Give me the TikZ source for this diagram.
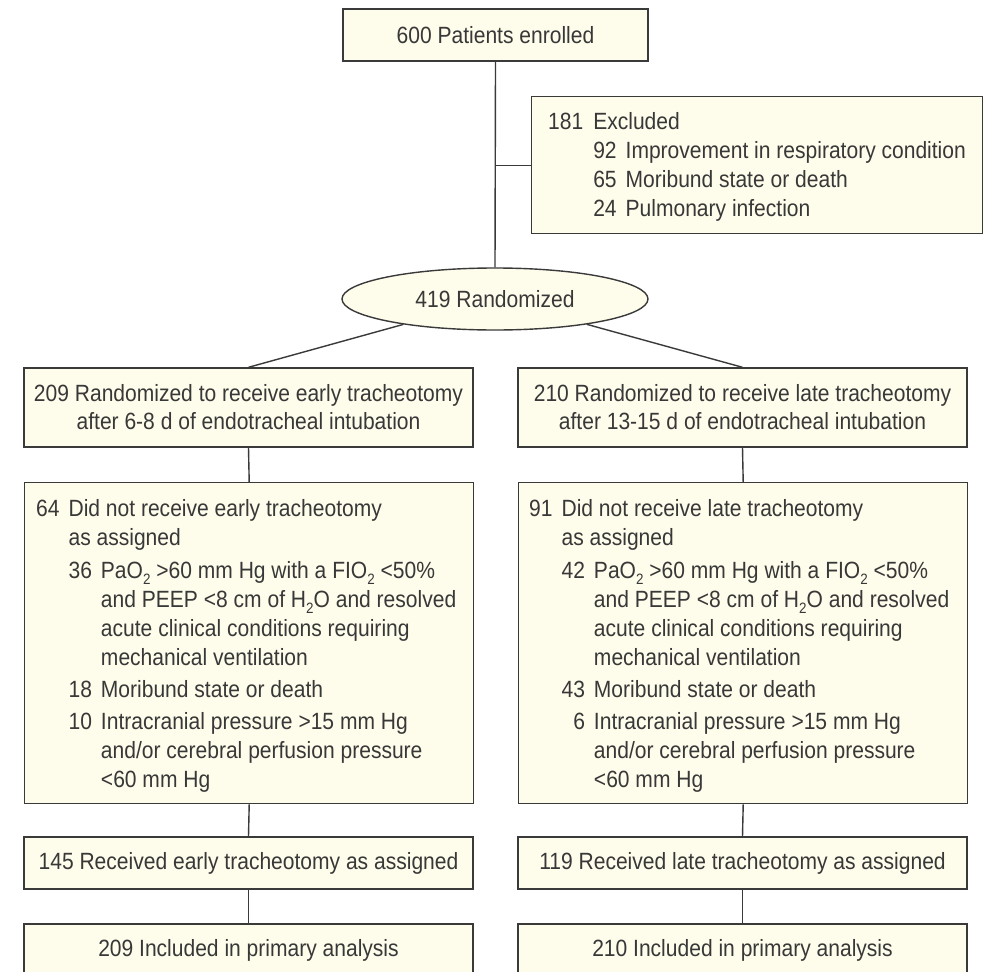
\documentclass[tikz,border=0pt]{standalone}
\usepackage{fontspec}
\setmainfont{Liberation Sans}[FakeStretch=0.895]
\usetikzlibrary{shapes.geometric}
\definecolor{boxfill}{HTML}{FEFCEA}
\definecolor{linec}{HTML}{3A3A3A}
\definecolor{txtc}{HTML}{383838}
\newcommand{\mysub}[1]{\raisebox{-6pt}{\fontsize{15}{15}\selectfont #1}}
\newcommand{\bignum}{\fontsize{23.5}{29}\selectfont}
\begin{document}
\begin{tikzpicture}[x=1pt,y=-1pt,
  font=\bignum, text=txtc,
  box/.style={draw=linec, fill=boxfill, line width=1.4pt, rectangle, inner sep=0pt},
  ellbox/.style={draw=linec, fill=boxfill, line width=1.4pt, ellipse, inner sep=0pt, minimum width=306, minimum height=62},
  conn/.style={draw=linec, line width=1.4pt},
  txtnode/.style={inner sep=0pt, anchor=base west}
]
\clip (0,0) rectangle (987,971);
\fill[white] (0,0) rectangle (987,971);

% top
\node[box, minimum width=305, minimum height=52] (top) at (495.5,35) {600 Patients enrolled};

% excluded
\node[box, minimum width=451, minimum height=137, anchor=north west] (excl) at (531,96) {};
\node[txtnode] (exclt) at (548,129) {\begin{tabular}[t]{@{}r@{\hspace{10pt}}r@{\hspace{9pt}}l@{}}
181 & \multicolumn{2}{@{}l@{}}{Excluded}\\
 & 92 & Improvement in respiratory condition\\
 & 65 & Moribund state or death\\
 & 24 & Pulmonary infection
\end{tabular}};

% randomized
\node[ellbox] (rand) at (495,299) {419 Randomized};

% arm boxes
\node[box, minimum width=449, minimum height=79, align=center, font=\fontsize{23.5}{28}\selectfont] (earlyr) at (248.5,407.5) {209 Randomized to receive early tracheotomy\\after 6-8 d of endotracheal intubation};
\node[box, minimum width=449, minimum height=79, align=center, font=\fontsize{23.5}{28}\selectfont] (later) at (742.5,407.5) {210 Randomized to receive late tracheotomy\\after 13-15 d of endotracheal intubation};

% not received boxes
\node[box, minimum width=449, minimum height=321, anchor=north west] (earlyn) at (24,482) {};
\node[txtnode] (earlynt) at (36,516) {\begin{tabular}[t]{@{}r@{\hspace{9pt}}r@{\hspace{9pt}}l@{}}
64 & \multicolumn{2}{@{}l@{}}{Did not receive early tracheotomy}\\
 & \multicolumn{2}{@{}l@{}}{as assigned}\\[4pt]
 & 36 & PaO\mysub{2} >60 mm Hg with a FIO\mysub{2} <50\%\\
 & & and PEEP <8 cm of H\mysub{2}O and resolved\\
 & & acute clinical conditions requiring\\
 & & mechanical ventilation\\[3pt]
 & 18 & Moribund state or death\\[3pt]
 & 10 & Intracranial pressure >15 mm Hg\\
 & & and/or cerebral perfusion pressure\\
 & & <60 mm Hg
\end{tabular}};

\node[box, minimum width=449, minimum height=321, anchor=north west] (laten) at (518,482) {};
\node[txtnode] (latent) at (529,516) {\begin{tabular}[t]{@{}r@{\hspace{9pt}}r@{\hspace{9pt}}l@{}}
91 & \multicolumn{2}{@{}l@{}}{Did not receive late tracheotomy}\\
 & \multicolumn{2}{@{}l@{}}{as assigned}\\[4pt]
 & 42 & PaO\mysub{2} >60 mm Hg with a FIO\mysub{2} <50\%\\
 & & and PEEP <8 cm of H\mysub{2}O and resolved\\
 & & acute clinical conditions requiring\\
 & & mechanical ventilation\\[3pt]
 & 43 & Moribund state or death\\[3pt]
 & 6 & Intracranial pressure >15 mm Hg\\
 & & and/or cerebral perfusion pressure\\
 & & <60 mm Hg
\end{tabular}};

% received
\node[box, minimum width=449, minimum height=52] (earlyrec) at (248.5,863) {145 Received early tracheotomy as assigned};
\node[box, minimum width=449, minimum height=52] (laterec) at (742.5,863) {119 Received late tracheotomy as assigned};

% analysis
\node[box, minimum width=449, minimum height=52] (earlya) at (248.5,950) {209 Included in primary analysis};
\node[box, minimum width=449, minimum height=52] (latea) at (742.5,950) {210 Included in primary analysis};

% connectors
\draw[conn] (top.south) -- (rand.north);
\draw[conn] (excl.west) -- (excl.west -| top.south);
\draw[conn] (rand) -- (earlyr.north);
\draw[conn] (rand) -- (later.north);
\draw[conn] (earlyr.south) -- (earlyn.north);
\draw[conn] (later.south) -- (laten.north);
\draw[conn] (earlyn.south) -- (earlyrec.north);
\draw[conn] (laten.south) -- (laterec.north);
\draw[conn] (earlyrec.south) -- (earlya.north);
\draw[conn] (laterec.south) -- (latea.north);
\end{tikzpicture}
\end{document}
